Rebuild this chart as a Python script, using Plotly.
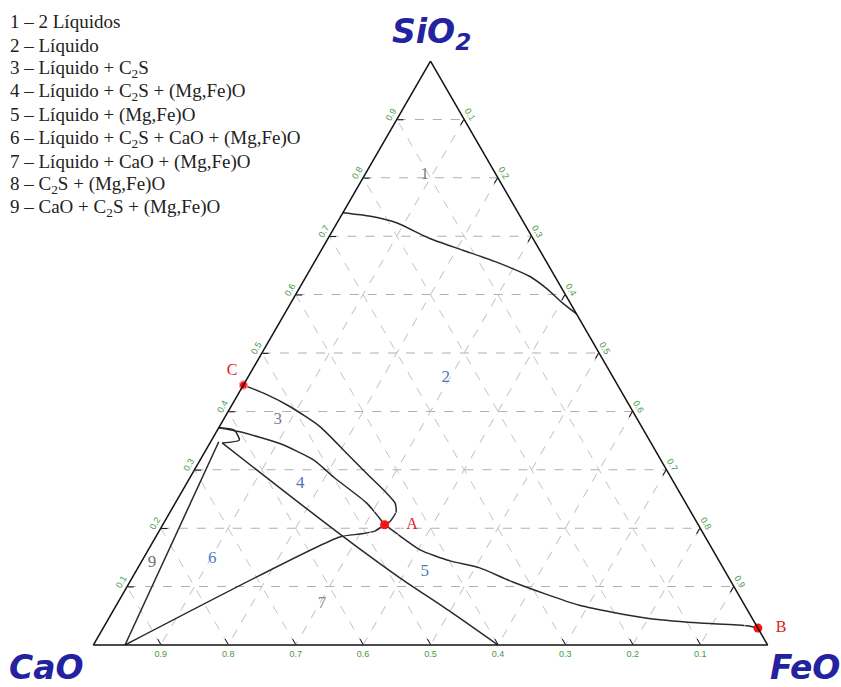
import plotly.graph_objects as go

# ---------------- data (ternary fractions: SiO2, CaO, FeO) ----------------
gap_sio2 = [0.740, 0.734, 0.723, 0.696, 0.676, 0.656, 0.631, 0.611, 0.585, 0.567]
gap_cao  = [0.260, 0.222, 0.189, 0.153, 0.114, 0.075, 0.037, 0.023, 0.011, 0.000]
gap_feo  = [0.000, 0.044, 0.088, 0.151, 0.210, 0.269, 0.332, 0.366, 0.404, 0.433]

ca_sio2 = [0.445, 0.430, 0.408, 0.374, 0.328, 0.294, 0.260, 0.243, 0.228, 0.211, 0.206]
ca_cao  = [0.555, 0.530, 0.504, 0.477, 0.460, 0.448, 0.435, 0.431, 0.437, 0.455, 0.465]
ca_feo  = [0.000, 0.040, 0.088, 0.149, 0.212, 0.258, 0.305, 0.326, 0.335, 0.334, 0.329]

b34_sio2 = [0.372, 0.365, 0.345, 0.317, 0.286, 0.243, 0.217, 0.206]
b34_cao  = [0.628, 0.600, 0.551, 0.515, 0.499, 0.473, 0.467, 0.465]
b34_feo  = [0.000, 0.035, 0.104, 0.168, 0.215, 0.284, 0.316, 0.329]

w8_sio2 = [0.372, 0.368, 0.351, 0.346]
w8_cao  = [0.628, 0.607, 0.608, 0.636]
w8_feo  = [0.000, 0.025, 0.041, 0.018]

b9_sio2 = [0.348, 0.000]
b9_cao  = [0.640, 0.953]
b9_feo  = [0.012, 0.047]

b46_sio2 = [0.346, 0.269, 0.216, 0.171, 0.115, 0.057, 0.000]
b46_cao  = [0.636, 0.589, 0.556, 0.527, 0.488, 0.442, 0.400]
b46_feo  = [0.018, 0.142, 0.228, 0.302, 0.397, 0.501, 0.600]

b67_sio2 = [0.206, 0.195, 0.190, 0.185, 0.000]
b67_cao  = [0.465, 0.485, 0.510, 0.542, 0.953]
b67_feo  = [0.329, 0.320, 0.300, 0.273, 0.047]

ab_sio2 = [0.206, 0.187, 0.163, 0.144, 0.132, 0.108, 0.068, 0.046, 0.038, 0.033, 0.029]
ab_cao  = [0.465, 0.452, 0.434, 0.399, 0.361, 0.324, 0.245, 0.156, 0.086, 0.014, 0.000]
ab_feo  = [0.329, 0.361, 0.403, 0.457, 0.507, 0.568, 0.687, 0.798, 0.876, 0.953, 0.971]

pt_names = ["A", "B", "C"]
pt_sio2 = [0.206, 0.029, 0.445]
pt_cao  = [0.465, 0.000, 0.555]
pt_feo  = [0.329, 0.971, 0.000]

reg_names = ["1", "2", "3", "4", "5", "6", "7", "8", "9"]
reg_sio2 = [0.805, 0.457, 0.385, 0.276, 0.125, 0.147, 0.070, 0.368, 0.140]
reg_cao  = [0.106, 0.249, 0.534, 0.555, 0.446, 0.750, 0.626, 0.649, 0.843]
reg_feo  = [0.089, 0.294, 0.081, 0.169, 0.429, 0.103, 0.304, -0.017, 0.017]
reg_colors = ["#808080", "#4f78b0", "#6f7f95", "#4f78b8", "#4f78b8",
              "#4f7fc8", "#8a8a8a", "#6878a8", "#707070"]

tick_vals = [0.1, 0.2, 0.3, 0.4, 0.5, 0.6, 0.7, 0.8, 0.9]

legend_lines = [
    "1 – 2 Líquidos",
    "2 – Líquido",
    "3 – Líquido + C<sub>2</sub>S",
    "4 – Líquido + C<sub>2</sub>S + (Mg,Fe)O",
    "5 – Líquido + (Mg,Fe)O",
    "6 – Líquido + C<sub>2</sub>S + CaO + (Mg,Fe)O",
    "7 – Líquido + CaO + (Mg,Fe)O",
    "8 – C<sub>2</sub>S + (Mg,Fe)O",
    "9 – CaO + C<sub>2</sub>S + (Mg,Fe)O",
]

# ---------------- figure ----------------
fig = go.Figure()
line_style = dict(color="#2a2a2a", width=1.5)

curves = [
    (gap_sio2, gap_cao, gap_feo),
    (ca_sio2, ca_cao, ca_feo),
    (b34_sio2, b34_cao, b34_feo),
    (w8_sio2, w8_cao, w8_feo),
    (b9_sio2, b9_cao, b9_feo),
    (b46_sio2, b46_cao, b46_feo),
    (b67_sio2, b67_cao, b67_feo),
    (ab_sio2, ab_cao, ab_feo),
]
for a, b, c in curves:
    fig.add_trace(go.Scatterternary(a=a, b=b, c=c, mode="lines",
                                    line=dict(line_style, shape="spline", smoothing=0.6),
                                    hoverinfo="skip", showlegend=False))

# red points
fig.add_trace(go.Scatterternary(
    a=pt_sio2, b=pt_cao, c=pt_feo, mode="markers",
    marker=dict(color="#ff1010", size=9), showlegend=False, cliponaxis=False))
# their labels (invisible larger markers control the label offset)
fig.add_trace(go.Scatterternary(
    a=pt_sio2, b=pt_cao, c=pt_feo, mode="markers+text",
    text=pt_names, textposition=["middle right", "middle right", "top left"],
    textfont=dict(family="Liberation Serif", size=16, color="#e02020"),
    marker=dict(color="rgba(0,0,0,0)", size=[33, 27, 8]),
    hoverinfo="skip", showlegend=False, cliponaxis=False))

fig.add_trace(go.Scatterternary(
    a=reg_sio2, b=reg_cao, c=reg_feo, mode="text", text=reg_names,
    textfont=dict(family="Liberation Serif", size=17, color=reg_colors),
    showlegend=False, cliponaxis=False))

axis_common = dict(
    tickvals=tick_vals, ticks="inside", ticklen=6, tickcolor="#111",
    showline=True, linecolor="#111", linewidth=1.5,
    showgrid=True, gridcolor="#c4c4c4", gridwidth=1, griddash="dash",
    tickfont=dict(family="Liberation Sans", size=9, color="#3f9a3f"),
    title=dict(text=""), min=0,
)

fig.update_layout(
    width=841, height=687,
    margin=dict(l=93, r=73, t=61, b=42, pad=0),
    paper_bgcolor="white",
    showlegend=False,
    ternary=dict(
        sum=1, bgcolor="white",
        aaxis=dict(axis_common, tickangle=-60, gridcolor="#b0b0b0"),
        baxis=dict(axis_common, tickangle=0),
        caxis=dict(axis_common, tickangle=60),
    ),
)

title_font = dict(family="DejaVu Sans", size=33, color="#2323a0")
fig.add_annotation(text="<b><i>SiO<sub>2</sub></i></b>", x=(431 - 93) / 675, y=(645 - 34) / 584,
                   xref="paper", yref="paper", xanchor="center", yanchor="middle",
                   showarrow=False, font=title_font)
fig.add_annotation(text="<b><i>CaO</i></b>", x=(46 - 93) / 675, y=(645 - 667) / 584,
                   xref="paper", yref="paper", xanchor="center", yanchor="middle",
                   showarrow=False, font=title_font)
fig.add_annotation(text="<b><i>FeO</i></b>", x=(805 - 93) / 675, y=(645 - 667) / 584,
                   xref="paper", yref="paper", xanchor="center", yanchor="middle",
                   showarrow=False, font=title_font)

for i, txt in enumerate(legend_lines):
    yc = 22 + i * 23.3
    fig.add_annotation(text=txt, x=(8 - 93) / 675, y=(645 - yc) / 584,
                       xref="paper", yref="paper", xanchor="left", yanchor="middle",
                       showarrow=False,
                       font=dict(family="Liberation Serif", size=19, color="#222"))

fig.write_html("out.html")
